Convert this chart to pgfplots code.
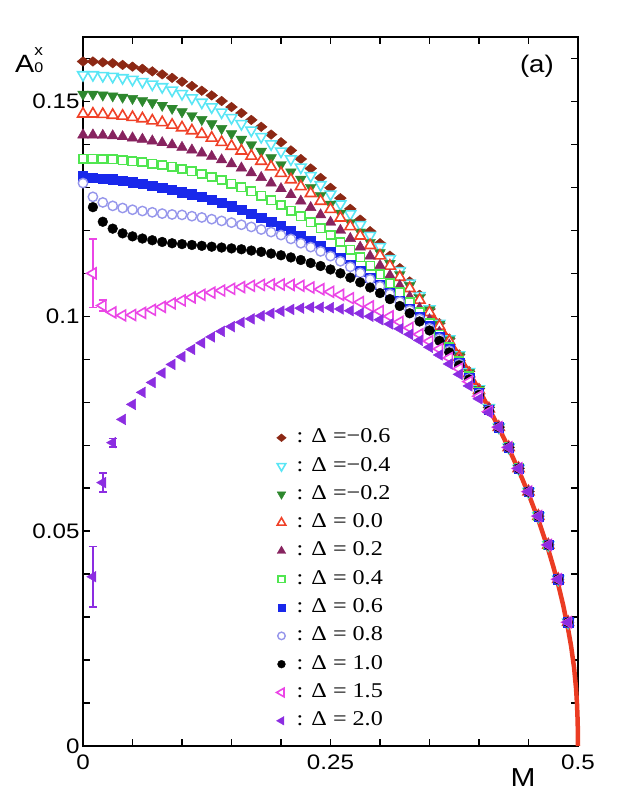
\documentclass[border=0pt]{standalone}
\usepackage{fontspec}
\setmainfont{Liberation Sans}[FakeStretch=1.15]
\newfontfamily\legfont{Liberation Serif}[FakeStretch=1.15]
\usepackage{pgfplots}
\pgfplotsset{compat=1.18}

\definecolor{cBrown}{RGB}{140,40,20}
\definecolor{cCyan}{RGB}{90,230,245}
\definecolor{cGreen}{RGB}{45,135,45}
\definecolor{cRed}{RGB}{240,65,40}
\definecolor{cMaroon}{RGB}{135,35,95}
\definecolor{cLGreen}{RGB}{80,230,80}
\definecolor{cBlue}{RGB}{25,40,235}
\definecolor{cLav}{RGB}{150,150,235}
\definecolor{cMag}{RGB}{235,70,230}
\definecolor{cViolet}{RGB}{140,45,225}
\definecolor{cLine}{RGB}{235,60,35}

\newcommand{\tickfont}{\fontsize{21}{24}\selectfont}

\begin{document}
\begin{tikzpicture}
\begin{axis}[
  at={(0,0)}, anchor=south west,
  scale only axis, width=495pt, height=709pt,
  xmin=0, xmax=0.5, ymin=0, ymax=0.165,
  clip=false,
  xtick={0,0.25,0.5}, xticklabels={0,0.25,0.5},
  minor xtick={0.05,0.1,0.15,0.2,0.3,0.35,0.4,0.45},
  ytick={0,0.05,0.1,0.15}, yticklabels={0,0.05,0.1,0.15},
  minor ytick={0.01,0.02,0.03,0.04,0.06,0.07,0.08,0.09,0.11,0.12,0.13,0.14,0.16},
  major tick length=7.5pt, minor tick length=7.5pt,
  every tick/.style={black, line width=1.4pt},
  axis line style={line width=1.5pt},
  tick label style={font=\tickfont},
  xticklabel style={yshift=-5pt},
  legend style={at={(axis cs:0.191,0.0748)}, anchor=north west,
    draw=none, fill=none, font=\legfont\fontsize{21}{24}\selectfont,
    row sep=6.3pt, inner xsep=3pt, inner ysep=2pt,
    nodes={inner sep=2pt, text height=14pt, text depth=4pt}},
  legend cell align=left,
  legend image code/.code={\draw[#1,/tikz/every mark/.append style={scale=0.8}] plot coordinates {(0pt,0pt)}; \path (-6pt,0pt) (13pt,0pt);},
]

% Delta = -0.6
\addplot[only marks, mark=diamond*, mark size=4.8pt, color=cBrown,
  mark options={xscale=1.65, fill=cBrown, line width=0.4pt}] coordinates {
(0,.1593)(.01,.1593)(.02,.1591)(.03,.1589)(.04,.1585)(.05,.1581)(.06,.1576)(.07,.1570)(.08,.1563)(.09,.1555)
(.10,.1546)(.11,.1536)(.12,.1525)(.13,.1514)(.14,.1501)(.15,.1487)(.16,.1473)(.17,.1457)(.18,.1441)(.19,.1423)
(.20,.1405)(.21,.1386)(.22,.1366)(.23,.1344)(.24,.1322)(.25,.1299)(.26,.1275)(.27,.1250)(.28,.1225)(.29,.1198)
(.30,.1170)(.31,.1141)(.32,.1112)(.33,.1081)(.34,.1050)(.35,.1017)(.36,.0984)(.37,.0948)(.38,.0911)(.39,.0872)
(.40,.0832)(.41,.0788)(.42,.0742)(.43,.0695)(.44,.0646)(.45,.0592)(.46,.0535)(.47,.0468)(.48,.0388)(.49,.0288)};
\addlegendentry{: Δ =−0.6}

% Delta = -0.4
\addplot[only marks, mark=triangle*, mark size=6.2pt, color=cCyan,
  mark options={rotate=180, fill=white, draw=cCyan, line width=1.6pt}] coordinates {
(0,.1562)(.01,.1562)(.02,.1560)(.03,.1558)(.04,.1555)(.05,.1551)(.06,.1546)(.07,.1540)(.08,.1534)(.09,.1526)
(.10,.1518)(.11,.1508)(.12,.1498)(.13,.1487)(.14,.1475)(.15,.1462)(.16,.1448)(.17,.1433)(.18,.1418)(.19,.1401)
(.20,.1384)(.21,.1366)(.22,.1347)(.23,.1327)(.24,.1306)(.25,.1284)(.26,.1261)(.27,.1238)(.28,.1213)(.29,.1188)
(.30,.1162)(.31,.1134)(.32,.1106)(.33,.1077)(.34,.1048)(.35,.1017)(.36,.0983)(.37,.0947)(.38,.0910)(.39,.0871)
(.40,.0831)(.41,.0787)(.42,.0742)(.43,.0695)(.44,.0646)(.45,.0592)(.46,.0535)(.47,.0468)(.48,.0388)(.49,.0288)};
\addlegendentry{: Δ =−0.4}

% Delta = -0.2
\addplot[only marks, mark=triangle*, mark size=6.2pt, color=cGreen,
  mark options={rotate=180, fill=cGreen, line width=0.4pt}] coordinates {
(0,.1517)(.01,.1517)(.02,.1515)(.03,.1513)(.04,.1510)(.05,.1507)(.06,.1502)(.07,.1497)(.08,.1491)(.09,.1484)
(.10,.1476)(.11,.1467)(.12,.1458)(.13,.1448)(.14,.1437)(.15,.1425)(.16,.1412)(.17,.1399)(.18,.1384)(.19,.1369)
(.20,.1353)(.21,.1336)(.22,.1319)(.23,.1300)(.24,.1281)(.25,.1261)(.26,.1240)(.27,.1218)(.28,.1196)(.29,.1172)
(.30,.1148)(.31,.1123)(.32,.1097)(.33,.1071)(.34,.1043)(.35,.1015)(.36,.0981)(.37,.0945)(.38,.0908)(.39,.0869)
(.40,.0830)(.41,.0786)(.42,.0742)(.43,.0695)(.44,.0646)(.45,.0592)(.46,.0535)(.47,.0468)(.48,.0388)(.49,.0288)};
\addlegendentry{: Δ =−0.2}

% Delta = 0.0
\addplot[only marks, mark=triangle*, mark size=6.2pt, color=cRed,
  mark options={fill=white, draw=cRed, line width=1.6pt}] coordinates {
(0,.1471)(.01,.1471)(.02,.1470)(.03,.1468)(.04,.1466)(.05,.1463)(.06,.1460)(.07,.1455)(.08,.1451)(.09,.1445)
(.10,.1439)(.11,.1432)(.12,.1424)(.13,.1415)(.14,.1405)(.15,.1396)(.16,.1385)(.17,.1373)(.18,.1361)(.19,.1348)
(.20,.1333)(.21,.1318)(.22,.1302)(.23,.1286)(.24,.1268)(.25,.1249)(.26,.1229)(.27,.1209)(.28,.1187)(.29,.1165)
(.30,.1141)(.31,.1117)(.32,.1091)(.33,.1065)(.34,.1038)(.35,.1009)(.36,.0977)(.37,.0942)(.38,.0905)(.39,.0867)
(.40,.0828)(.41,.0785)(.42,.0742)(.43,.0695)(.44,.0646)(.45,.0592)(.46,.0535)(.47,.0468)(.48,.0388)(.49,.0288)};
\addlegendentry{: Δ = 0.0}

% Delta = 0.2
\addplot[only marks, mark=triangle*, mark size=6.2pt, color=cMaroon,
  mark options={fill=cMaroon, line width=0.4pt}] coordinates {
(0,.1422)(.01,.1422)(.02,.1421)(.03,.1420)(.04,.1418)(.05,.1415)(.06,.1412)(.07,.1408)(.08,.1404)(.09,.1399)
(.10,.1393)(.11,.1387)(.12,.1380)(.13,.1372)(.14,.1364)(.15,.1355)(.16,.1345)(.17,.1334)(.18,.1323)(.19,.1310)
(.20,.1297)(.21,.1283)(.22,.1268)(.23,.1253)(.24,.1236)(.25,.1219)(.26,.1200)(.27,.1181)(.28,.1161)(.29,.1140)
(.30,.1118)(.31,.1095)(.32,.1071)(.33,.1045)(.34,.1019)(.35,.0992)(.36,.0963)(.37,.0933)(.38,.0899)(.39,.0863)
(.40,.0825)(.41,.0784)(.42,.0742)(.43,.0695)(.44,.0646)(.45,.0592)(.46,.0535)(.47,.0468)(.48,.0388)(.49,.0288)};
\addlegendentry{: Δ = 0.2}

% Delta = 0.4
\addplot[only marks, mark=square*, mark size=4.2pt, color=cLGreen,
  mark options={fill=white, draw=cLGreen, line width=1.6pt}] coordinates {
(0,.1367)(.01,.1367)(.02,.1366)(.03,.1365)(.04,.1363)(.05,.1361)(.06,.1359)(.07,.1355)(.08,.1352)(.09,.1348)
(.10,.1343)(.11,.1337)(.12,.1331)(.13,.1324)(.14,.1317)(.15,.1309)(.16,.1300)(.17,.1291)(.18,.1281)(.19,.1270)
(.20,.1259)(.21,.1246)(.22,.1233)(.23,.1219)(.24,.1205)(.25,.1189)(.26,.1173)(.27,.1155)(.28,.1137)(.29,.1118)
(.30,.1098)(.31,.1077)(.32,.1056)(.33,.1033)(.34,.1009)(.35,.0984)(.36,.0957)(.37,.0928)(.38,.0895)(.39,.0860)
(.40,.0823)(.41,.0783)(.42,.0742)(.43,.0695)(.44,.0646)(.45,.0592)(.46,.0535)(.47,.0468)(.48,.0388)(.49,.0288)};
\addlegendentry{: Δ = 0.4}

% Delta = 0.6
\addplot[only marks, mark=square*, mark size=4.6pt, color=cBlue,
  mark options={fill=cBlue, line width=0.4pt}] coordinates {
(0,.1326)(.01,.1322)(.02,.1321)(.03,.1319)(.04,.1316)(.05,.1312)(.06,.1308)(.07,.1304)(.08,.1300)(.09,.1295)
(.10,.1289)(.11,.1284)(.12,.1278)(.13,.1271)(.14,.1264)(.15,.1256)(.16,.1248)(.17,.1239)(.18,.1230)(.19,.1220)
(.20,.1210)(.21,.1199)(.22,.1188)(.23,.1176)(.24,.1163)(.25,.1149)(.26,.1135)(.27,.1121)(.28,.1105)(.29,.1089)
(.30,.1073)(.31,.1055)(.32,.1037)(.33,.1018)(.34,.0998)(.35,.0977)(.36,.0952)(.37,.0924)(.38,.0892)(.39,.0858)
(.40,.0821)(.41,.0782)(.42,.0742)(.43,.0695)(.44,.0646)(.45,.0592)(.46,.0535)(.47,.0468)(.48,.0388)(.49,.0288)};
\addlegendentry{: Δ = 0.6}

% Delta = 0.8
\addplot[only marks, mark=*, mark size=4.7pt, color=cLav,
  mark options={fill=white, draw=cLav, line width=1.4pt}] coordinates {
(0,.1310)(.01,.1278)(.02,.1265)(.03,.1257)(.04,.1252)(.05,.1248)(.06,.1245)(.07,.1242)(.08,.1239)(.09,.1237)
(.10,.1236)(.11,.1233)(.12,.1230)(.13,.1226)(.14,.1222)(.15,.1218)(.16,.1213)(.17,.1208)(.18,.1202)(.19,.1196)
(.20,.1189)(.21,.1180)(.22,.1170)(.23,.1161)(.24,.1151)(.25,.1140)(.26,.1128)(.27,.1115)(.28,.1101)(.29,.1086)
(.30,.1070)(.31,.1052)(.32,.1034)(.33,.1014)(.34,.0994)(.35,.0972)(.36,.0948)(.37,.0920)(.38,.0889)(.39,.0855)
(.40,.0819)(.41,.0781)(.42,.0742)(.43,.0695)(.44,.0646)(.45,.0592)(.46,.0535)(.47,.0468)(.48,.0388)(.49,.0288)};
\addlegendentry{: Δ = 0.8}

% Delta = 1.0
\addplot[only marks, mark=*, mark size=4.9pt, color=black,
  mark options={fill=black, line width=0.4pt}] coordinates {
(.01,.1254)(.02,.1220)(.03,.1204)(.04,.1193)(.05,.1186)(.06,.1181)(.07,.1177)(.08,.1173)(.09,.1170)
(.10,.1168)(.11,.1166)(.12,.1164)(.13,.1162)(.14,.1160)(.15,.1158)(.16,.1156)(.17,.1153)(.18,.1150)(.19,.1146)
(.20,.1142)(.21,.1137)(.22,.1131)(.23,.1124)(.24,.1117)(.25,.1109)(.26,.1100)(.27,.1090)(.28,.1079)(.29,.1067)
(.30,.1054)(.31,.1040)(.32,.1024)(.33,.1007)(.34,.0988)(.35,.0967)(.36,.0943)(.37,.0916)(.38,.0886)(.39,.0853)
(.40,.0817)(.41,.0780)(.42,.0742)(.43,.0695)(.44,.0646)(.45,.0592)(.46,.0535)(.47,.0468)(.48,.0388)(.49,.0288)};
\addlegendentry{: Δ = 1.0}

% error bars, Delta = 1.5
\addplot[forget plot, only marks, mark=none,
  error bars/.cd, y dir=both, y explicit,
  error bar style={line width=1.5pt, cMag},
  error mark options={rotate=90, mark size=4pt, line width=1.5pt, cMag}] coordinates {
(.01,.1100) +- (0,.0080) (.02,.1025) +- (0,.0013)};

% Delta = 1.5
\addplot[only marks, mark=triangle*, mark size=6.2pt, color=cMag,
  mark options={rotate=90, fill=white, draw=cMag, line width=1.6pt}] coordinates {
(.01,.1100)(.02,.1025)(.03,.1009)(.04,.1002)(.05,.1003)(.06,.1008)(.07,.1015)(.08,.1022)(.09,.1030)
(.10,.1037)(.11,.1044)(.12,.1050)(.13,.1055)(.14,.1060)(.15,.1064)(.16,.1068)(.17,.1071)(.18,.1073)(.19,.1074)
(.20,.1074)(.21,.1073)(.22,.1071)(.23,.1067)(.24,.1063)(.25,.1057)(.26,.1050)(.27,.1042)(.28,.1033)(.29,.1023)
(.30,.1012)(.31,.1000)(.32,.0987)(.33,.0973)(.34,.0958)(.35,.0942)(.36,.0924)(.37,.0903)(.38,.0878)(.39,.0848)
(.40,.0814)(.41,.0778)(.42,.0742)(.43,.0695)(.44,.0646)(.45,.0592)(.46,.0535)(.47,.0468)(.48,.0388)(.49,.0288)};
\addlegendentry{: Δ = 1.5}

% error bars, Delta = 2.0
\addplot[forget plot, only marks, mark=none,
  error bars/.cd, y dir=both, y explicit,
  error bar style={line width=1.5pt, cViolet},
  error mark options={rotate=90, mark size=4pt, line width=1.5pt, cViolet}] coordinates {
(.01,.0394) +- (0,.0070) (.02,.0613) +- (0,.0022) (.03,.0706) +- (0,.0010)};

% Delta = 2.0
\addplot[only marks, mark=triangle*, mark size=6.2pt, color=cViolet,
  mark options={rotate=90, fill=cViolet, line width=0.4pt}] coordinates {
(.01,.0394)(.02,.0613)(.03,.0706)(.04,.0760)(.05,.0795)(.06,.0823)(.07,.0846)(.08,.0868)(.09,.0888)
(.10,.0906)(.11,.0923)(.12,.0938)(.13,.0952)(.14,.0965)(.15,.0976)(.16,.0986)(.17,.0994)(.18,.1001)(.19,.1007)
(.20,.1012)(.21,.1016)(.22,.1019)(.23,.1021)(.24,.1021)(.25,.1020)(.26,.1017)(.27,.1013)(.28,.1007)(.29,.1000)
(.30,.0992)(.31,.0982)(.32,.0971)(.33,.0958)(.34,.0944)(.35,.0928)(.36,.0910)(.37,.0889)(.38,.0865)(.39,.0838)
(.40,.0808)(.41,.0776)(.42,.0742)(.43,.0695)(.44,.0646)(.45,.0592)(.46,.0535)(.47,.0468)(.48,.0388)(.49,.0288)};
\addlegendentry{: Δ = 2.0}

% limiting curve
\addplot[forget plot, no marks, color=cLine, line width=4.5pt, line join=round] coordinates {
(.35,.1012)(.36,.0980)(.37,.0945)(.38,.0908)(.39,.0869)(.40,.0829)(.41,.0786)(.42,.0741)(.43,.0693)(.44,.0642)
(.45,.0587)(.46,.0526)(.47,.0457)(.475,.0418)(.48,.0376)(.485,.0328)(.49,.0272)(.493,.0233)(.496,.0183)
(.498,.0135)(.499,.0098)(.4997,.0055)(.5,0)};

\node[anchor=base west, inner sep=0pt] at (rel axis cs:0,0) [xshift=-68pt, yshift=673pt]
  {\fontsize{25}{25}\selectfont A\rlap{\raisebox{17pt}{\fontsize{15}{15}\selectfont x}}{\fontsize{14}{14}\selectfont 0}};
\node[font=\fontsize{26}{28}\selectfont] at (rel axis cs:0.889,0) [yshift=-32pt] {M};
\node[font=\fontsize{24}{26}\selectfont] at (rel axis cs:0.917,0.958) {(a)};
\end{axis}
\path (-83pt,-62pt) rectangle (535pt,746pt);
\end{tikzpicture}
\end{document}
